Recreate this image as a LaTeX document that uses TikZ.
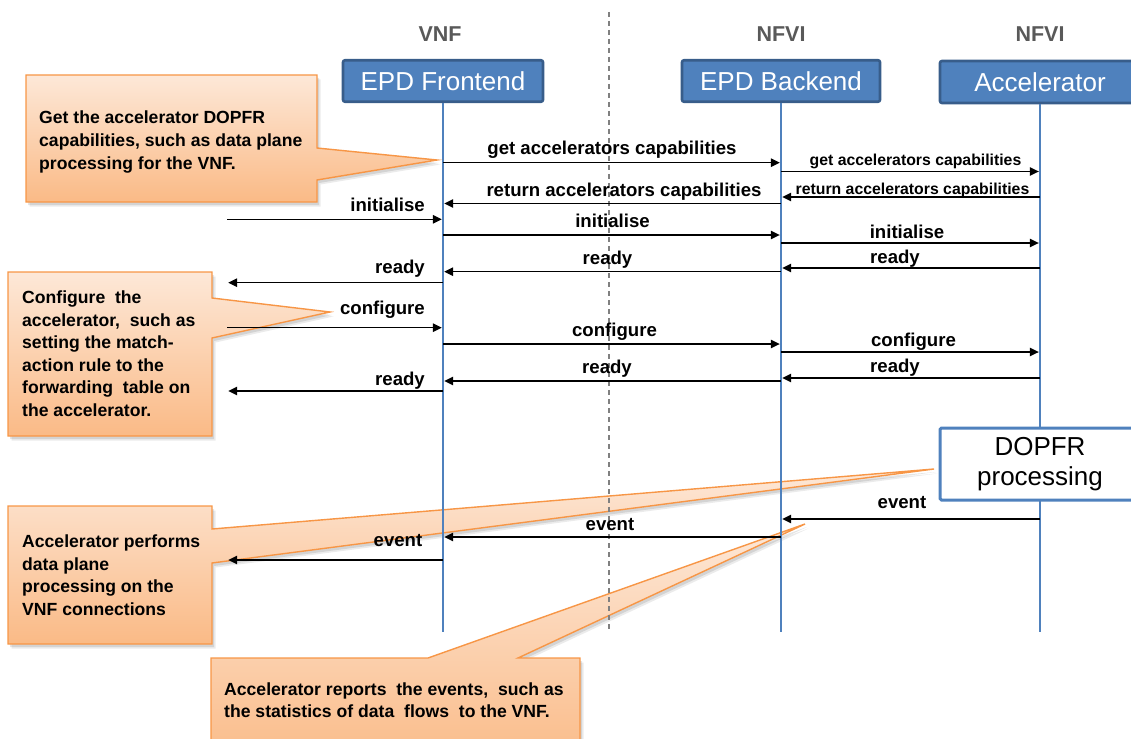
\documentclass[tikz,border=0pt]{standalone}
\usepackage{fontspec}
\setmainfont{Liberation Sans}
\usetikzlibrary{arrows.meta}

\definecolor{lifeblue}{RGB}{79,129,189}
\definecolor{boxedge}{RGB}{56,93,138}
\definecolor{calltop}{RGB}{253,232,216}
\definecolor{callbottom}{RGB}{250,186,134}
\definecolor{calledge}{RGB}{247,150,70}
\definecolor{headgray}{RGB}{89,89,89}
\definecolor{dashgray}{RGB}{128,128,128}

% callout body with a soft drop shadow
\newcommand\calloutpath[1]{%
  \fill[black,opacity=0.10,shift={(2,3)}] #1;
  \fill[black,opacity=0.08,shift={(3.5,4.5)}] #1;
  \shade[callbody] #1;
}

\begin{document}
\begin{tikzpicture}[x=1pt,y=-1pt,
  actor/.style={draw=boxedge, line width=2.6pt, fill=lifeblue, rounded corners=2pt,
    text=white, font=\fontsize{26}{30}\selectfont, inner sep=0pt},
  procbox/.style={draw=lifeblue, line width=3pt, fill=white, rounded corners=1.5pt,
    font=\fontsize{26}{30}\selectfont, align=center, inner sep=0pt},
  layer/.style={text=headgray, font=\bfseries\fontsize{21.5}{24}\selectfont, anchor=base, inner sep=0pt},
  lifeline/.style={draw=lifeblue, line width=2.4pt},
  divider/.style={draw=dashgray, line width=1.1pt, dash pattern=on 5pt off 4pt},
  msg/.style={draw=black, line width=1.3pt, -{Triangle[length=9pt,width=8.5pt]}, shorten >=1.2pt},
  lbl/.style={font=\bfseries\fontsize{18.6}{22}\selectfont, anchor=base, inner sep=0pt},
  slbl/.style={lbl, font=\bfseries\fontsize{15.8}{19}\selectfont},
  rlbl/.style={lbl, anchor=base east},
  callbody/.style={top color=calltop, bottom color=callbottom, draw=calledge, line width=1.4pt, line join=miter},
  % a multi-line node sits on the baseline of its last line
  calltext/.style={font=\bfseries\fontsize{17.6}{22.5}\selectfont, align=left, anchor=base west, inner sep=0pt},
]
\path[use as bounding box] (0,0) rectangle (1131,738);
\clip (0,0) rectangle (1131,738);

% ---- callouts (behind everything else)
\calloutpath{(26,75) -- (317,75) -- (317,148) -- (437,160) -- (317,180) -- (317,202) -- (26,202) -- cycle}
\calloutpath{(8,272) -- (212,272) -- (212,298) -- (330,312) -- (212,338) -- (212,436) -- (8,436) -- cycle}
\calloutpath{(8,506) -- (212,506) -- (212,529) -- (934,469) -- (212,563) -- (212,644) -- (8,644) -- cycle}
\calloutpath{(211,658) -- (428,658) -- (805,524) -- (518,658) -- (580,658) -- (580,770) -- (211,770) -- cycle}

\node[calltext, font=\bfseries\fontsize{17.6}{23}\selectfont] (c1) at (39,169) {Get the accelerator DOPFR\\capabilities, such as data plane\\processing for the VNF.};
\node[calltext] (c2) at (22,416) {Configure\ \ the\\accelerator,\ \ such as\\setting the match-\\action rule to the\\forwarding\ \ table on\\the accelerator.};
\node[calltext] (c3) at (22,615) {Accelerator performs\\data plane\\processing on the\\VNF connections};
\node[calltext] (c4) at (224,717.5) {Accelerator reports\ \ the events,\ \ such as\\the statistics of data\ \ flows\ \ to the VNF.};

% ---- domain separator and layer titles
\coordinate (divTop) at (609,12);
\coordinate (divBot) at (609,632);
\draw[divider] (divTop) -- (divBot);

\node[layer] (vnf)   at (440,41.7)  {VNF};
\node[layer] (nfvi1) at (781,41.7)  {NFVI};
\node[layer] (nfvi2) at (1040,41.7) {NFVI};

% ---- participants
\node[actor, minimum width=200pt, minimum height=41.5pt] (fe) at (443,81) {EPD Frontend};
\node[actor, minimum width=198pt, minimum height=41.5pt] (be) at (781,81) {EPD Backend};
\node[actor, minimum width=200pt, minimum height=42pt]   (ac) at (1040,82) {Accelerator};

\coordinate (feEnd) at (443,632);
\coordinate (beEnd) at (781,632);
\coordinate (acEnd) at (1040,632);
\coordinate (ext)   at (227,0);

\draw[lifeline] (fe.south) -- (feEnd);
\draw[lifeline] (be.south) -- (beEnd);
\draw[lifeline] (ac.south) -- (acEnd);

\node[procbox, minimum width=200pt, minimum height=72pt] (proc) at (1040,464) {DOPFR\\processing};

% ---- capability discovery
\draw[msg] (fe |- 0,162.7) -- (be |- 0,162.7);
\node[lbl] (m1) at (612,155) {get accelerators capabilities};
\draw[msg] (be |- 0,171.5) -- (ac |- 0,171.5);
\node[slbl] (m2) at (915.5,166) {get accelerators capabilities};
\draw[msg] (ac |- 0,197) -- (be |- 0,197);
\node[slbl] (m3) at (912.5,194) {return accelerators capabilities};
\draw[msg] (be |- 0,203.5) -- (fe |- 0,203.5);
\node[lbl] (m4) at (624,196) {return accelerators capabilities};

% ---- initialisation
\draw[msg] (ext |- 0,219.3) -- (fe |- 0,219.3);
\node[rlbl] (m5) at (425,211) {initialise};
\draw[msg] (fe |- 0,235) -- (be |- 0,235);
\node[lbl] (m6) at (612.5,227.7) {initialise};
\draw[msg] (be |- 0,243) -- (ac |- 0,243);
\node[lbl] (m7) at (907,238) {initialise};
\draw[msg] (ac |- 0,268) -- (be |- 0,268);
\node[lbl] (m8) at (895,263) {ready};
\draw[msg] (be |- 0,271.7) -- (fe |- 0,271.7);
\node[lbl] (m9) at (607.5,264) {ready};
\draw[msg] (fe |- 0,282.7) -- (ext |- 0,282.7);
\node[rlbl] (m10) at (425,273) {ready};

% ---- configuration
\draw[msg] (ext |- 0,327.7) -- (fe |- 0,327.7);
\node[rlbl] (m11) at (425,314) {configure};
\draw[msg] (fe |- 0,344) -- (be |- 0,344);
\node[lbl] (m12) at (614.5,336) {configure};
\draw[msg] (be |- 0,352) -- (ac |- 0,352);
\node[lbl] (m13) at (913.5,346) {configure};
\draw[msg] (ac |- 0,378) -- (be |- 0,378);
\node[lbl] (m14) at (895,372) {ready};
\draw[msg] (be |- 0,381) -- (fe |- 0,381);
\node[lbl] (m15) at (607,373) {ready};
\draw[msg] (fe |- 0,391) -- (ext |- 0,391);
\node[rlbl] (m16) at (425,385) {ready};

% ---- event reporting
\draw[msg] (ac |- 0,519) -- (be |- 0,519);
\node[lbl] (m17) at (902,508) {event};
\draw[msg] (be |- 0,537) -- (fe |- 0,537);
\node[lbl] (m18) at (610,530) {event};
\draw[msg] (fe |- 0,560) -- (ext |- 0,560);
\node[rlbl] (m19) at (422.5,546) {event};

\end{tikzpicture}
\end{document}
